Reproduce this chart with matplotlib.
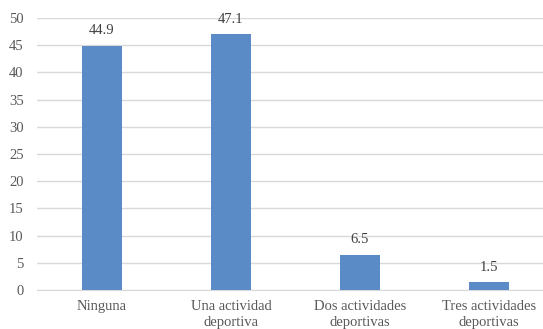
import matplotlib
matplotlib.use("Agg")
import matplotlib.pyplot as plt

categories = ["Ninguna", "Una actividad\ndeportiva", "Dos actividades\ndeportivas", "Tres actividades\ndeportivas"]
values = [44.9, 47.1, 6.5, 1.5]
yticks = [0, 5, 10, 15, 20, 25, 30, 35, 40, 45, 50]

plt.rcParams['font.family'] = ['Liberation Serif', 'DejaVu Serif']
fig = plt.figure(figsize=(5.43, 3.29), dpi=100)
ax = fig.add_axes([0.069, 0.1185, 0.95, 0.8265])
x = list(range(len(categories)))
bars = ax.bar(x, values, width=0.31, color="#5b8bc7", zorder=3)
for xi, v in zip(x, values):
    ax.annotate(f"{v}", (xi, v), xytext=(0, 6), textcoords="offset points",
                ha="center", va="bottom", fontsize=10.5, color="#404040")
ax.set_xlim(-0.5, 3.5)
ax.set_ylim(0, 50)
ax.set_yticks(yticks)
ax.set_xticks(x)
ax.set_xticklabels(categories, fontsize=10.5, color="#595959", linespacing=1.3)
ax.tick_params(axis='y', labelsize=10.5, labelcolor="#595959", length=0, pad=10)
ax.tick_params(axis='x', length=0, pad=7)
ax.grid(axis='y', color="#d9d9d9", linewidth=1, zorder=0)
for s in ["top", "right", "left"]:
    ax.spines[s].set_visible(False)
ax.spines["bottom"].set_color("#d9d9d9")
fig.savefig("out.png", dpi=100)
